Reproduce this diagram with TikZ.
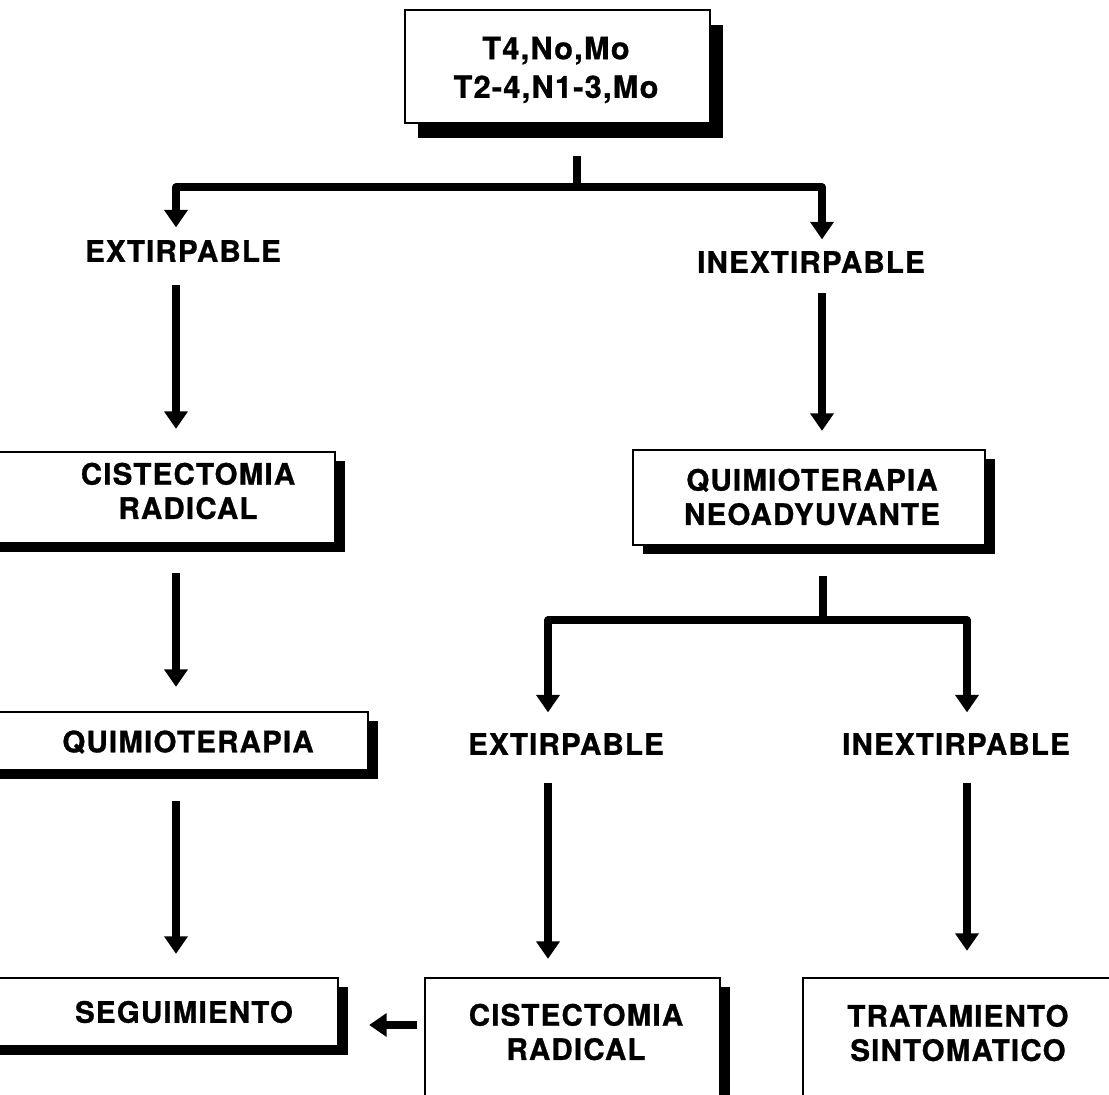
\documentclass[tikz,border=0pt]{standalone}
\usepackage{fontspec}
\setmainfont{TeX Gyre Heros}[LetterSpace=4, BoldFeatures={FakeBold=0.9}]
\usetikzlibrary{arrows.meta,fit,shadows}
\begin{document}
\begin{tikzpicture}[x=0.02cm,y=-0.02cm,
  frame/.style={draw, line width=1.3pt, fill=white, inner sep=0pt,
    drop shadow={shadow xshift=0.2cm, shadow yshift=-0.17cm, opacity=1, fill=black}},
  topframe/.style={draw, line width=1.3pt, fill=white, inner sep=0pt,
    drop shadow={shadow xshift=0.26cm, shadow yshift=-0.3cm, opacity=1, fill=black}},
  txt/.style={font=\bfseries\fontsize{16.8}{19.5}\selectfont, align=center, inner sep=0pt},
  toptxt/.style={txt, font=\bfseries\fontsize{17.5}{22}\selectfont},
  link/.style={line width=4pt, line join=round},
  arr/.style={link, -{Triangle[width=13pt,length=10pt]}}]
\useasboundingbox (0,0) rectangle (1109,1095);

% columns of the vertical connectors and rows of the horizontal ones
\coordinate (cL)  at (176,0);
\coordinate (cR)  at (822,0);
\coordinate (cM)  at (548,0);
\coordinate (cRR) at (967,0);
\coordinate (s1)  at (577,0);
\coordinate (s2)  at (823,0);
\coordinate (bar1) at (0,187);
\coordinate (bar2) at (0,620);
\coordinate (rowB) at (0,1025);

% boxes
\node[topframe, fit={(405,10) (710,123)}] (top) {};
\node[toptxt] (topt) at (556,70) {T4,No,Mo\\T2-4,N1-3,Mo};

\node[frame, fit={(-20,452) (335,543)}] (cr1) {};
\node[txt] (cr1t) at (188,491) {CISTECTOMIA\\RADICAL};

\node[frame, fit={(633,450) (985,545)}] (qn) {};
\node[txt] (qnt) at (812,497) {QUIMIOTERAPIA\\NEOADYUVANTE};

\node[frame, fit={(-20,712) (368,770)}] (qt) {};
\node[txt] (qtt) at (188,742) {QUIMIOTERAPIA};

\node[frame, fit={(-20,978) (338,1046)}] (seg) {};
\node[txt] (segt) at (184,1012) {SEGUIMIENTO};

\node[frame, fit={(425,978) (720,1115)}] (cr2) {};
\node[txt] (cr2t) at (576,1032) {CISTECTOMIA\\RADICAL};

\node[frame, fit={(803,978) (1130,1115)}] (trat) {};
\node[txt] (tratt) at (958,1033) {TRATAMIENTO\\SINTOMATICO};

% branch labels
\node[txt] (ext1)   at (183,251) {EXTIRPABLE};
\node[txt] (inext1) at (811,262) {INEXTIRPABLE};
\node[txt] (ext2)   at (566,744) {EXTIRPABLE};
\node[txt] (inext2) at (956,744) {INEXTIRPABLE};

% first split
\draw[link, shorten <=0.64cm] (top.south -| s1) -- (bar1 -| s1);
\draw[arr, shorten >=0.25cm] (bar1 -| s1) -| (ext1.north -| cL);
\draw[arr, shorten >=0.23cm] (bar1 -| s1) -| (inext1.north -| cR);

% left branch
\draw[arr, shorten <=0.46cm, shorten >=0.44cm] (ext1.south -| cL) -- (cr1.north -| cL);
\draw[arr, shorten <=0.58cm, shorten >=0.48cm] (cr1.south -| cL) -- (qt.north -| cL);
\draw[arr, shorten <=0.6cm, shorten >=0.46cm] (qt.south -| cL) -- (seg.north -| cL);

% right branch
\draw[arr, shorten <=0.39cm, shorten >=0.36cm] (inext1.south -| cR) -- (qn.north -| cR);
\draw[link, shorten <=0.6cm] (qn.south -| s2) -- (bar2 -| s2);
\draw[arr, shorten >=0.41cm] (bar2 -| s2) -| (ext2.north -| cM);
\draw[arr, shorten >=0.41cm] (bar2 -| s2) -| (inext2.north -| cRR);
\draw[arr, shorten <=0.55cm, shorten >=0.36cm] (ext2.south -| cM) -- (cr2.north -| cM);
\draw[arr, shorten <=0.55cm, shorten >=0.52cm] (inext2.south -| cRR) -- (trat.north -| cRR);

% back to follow-up
\draw[arr, shorten <=0.14cm, shorten >=0.6cm] (cr2.west |- rowB) -- (seg.east |- rowB);
\end{tikzpicture}
\end{document}
